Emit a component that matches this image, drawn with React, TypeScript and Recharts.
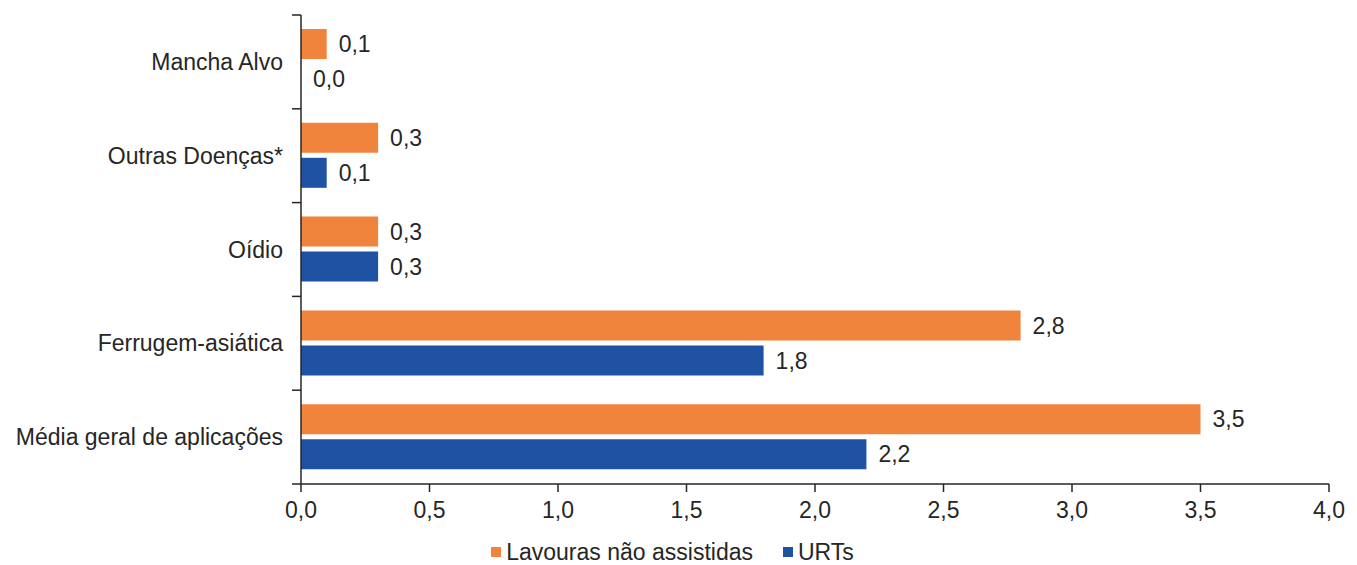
import { BarChart, Bar, XAxis, YAxis, Legend, LabelList } from 'recharts'

const categories = ['Mancha Alvo', 'Outras Doenças*', 'Oídio', 'Ferrugem-asiática', 'Média geral de aplicações']
const lavouras = [0.1, 0.3, 0.3, 2.8, 3.5]
const urts = [0.0, 0.1, 0.3, 1.8, 2.2]
const xTicks = [0, 0.5, 1, 1.5, 2, 2.5, 3, 3.5, 4]

const ORANGE = '#F0843C'
const BLUE = '#1F52A3'
const INK = '#262626'
const FONT = '"Liberation Sans", Arial, sans-serif'
const FS = 23

const W = 1357
const H = 565
const M = { top: 15, right: 28, bottom: 0, left: 0 }
const Y_AXIS_W = 301
const LEGEND_H = 40
const X_AXIS_H = 41
const plotH = H - M.top - M.bottom - X_AXIS_H - LEGEND_H

const data = categories.map((name, i) => ({ name, lavouras: lavouras[i], urts: urts[i] }))

const fmt = (v: number) => v.toFixed(1).replace('.', ',')

// category label at band centre, tick marks on the band edges
function CategoryTick({ x, y, payload, index }: any) {
  const band = plotH / categories.length
  const ax = x + 8
  return (
    <g>
      <line x1={ax - 9} x2={ax} y1={y - band / 2} y2={y - band / 2} stroke={INK} strokeWidth={1.5} />
      {index === categories.length - 1 && (
        <line x1={ax - 9} x2={ax} y1={y + band / 2} y2={y + band / 2} stroke={INK} strokeWidth={1.5} />
      )}
      <text x={ax - 18} y={y} dy={8} textAnchor="end" fill={INK} fontSize={FS} fontFamily={FONT}>
        {payload.value}
      </text>
    </g>
  )
}

function LegendBox() {
  const items = [
    { label: 'Lavouras não assistidas', color: ORANGE },
    { label: 'URTs', color: BLUE },
  ]
  return (
    <div
      style={{
        height: LEGEND_H,
        marginTop: 7,
        display: 'flex',
        justifyContent: 'center',
        alignItems: 'center',
        gap: 30,
        fontFamily: FONT,
        fontSize: FS,
        color: INK,
        paddingLeft: 16,
      }}
    >
      {items.map((it) => (
        <div key={it.label} style={{ display: 'flex', alignItems: 'center' }}>
          <span style={{ width: 10, height: 10, background: it.color, marginRight: 5, display: 'inline-block' }} />
          {it.label}
        </div>
      ))}
    </div>
  )
}

export default function App() {
  return (
    <div style={{ position: 'absolute', left: 0, top: 0, background: '#fff' }}>
      <BarChart
        width={W}
        height={H}
        data={data}
        layout="vertical"
        margin={M}
        barSize={30}
        barGap={5}
      >
        <XAxis
          type="number"
          domain={[0, 4]}
          ticks={xTicks}
          tickFormatter={fmt}
          height={X_AXIS_H}
          axisLine={{ stroke: INK, strokeWidth: 1.5 }}
          tickLine={{ stroke: INK, strokeWidth: 1.5 }}
          tickSize={8}
          tick={{ fill: INK, fontSize: FS, fontFamily: FONT, dy: 8 }}
          interval={0}
        />
        <YAxis
          type="category"
          dataKey="name"
          width={Y_AXIS_W}
          axisLine={{ stroke: INK, strokeWidth: 1.5 }}
          tickLine={false}
          tick={<CategoryTick />}
          interval={0}
        />
        <Legend content={<LegendBox />} verticalAlign="bottom" height={LEGEND_H} />
        <Bar dataKey="lavouras" name="Lavouras não assistidas" fill={ORANGE} isAnimationActive={false}>
          <LabelList dataKey="lavouras" position="right" offset={12} formatter={(v: any) => fmt(Number(v))} fill={INK} fontSize={FS} fontFamily={FONT} />
        </Bar>
        <Bar dataKey="urts" name="URTs" fill={BLUE} minPointSize={0.01} isAnimationActive={false}>
          <LabelList dataKey="urts" position="right" offset={12} formatter={(v: any) => fmt(Number(v))} fill={INK} fontSize={FS} fontFamily={FONT} />
        </Bar>
      </BarChart>
    </div>
  )
}
